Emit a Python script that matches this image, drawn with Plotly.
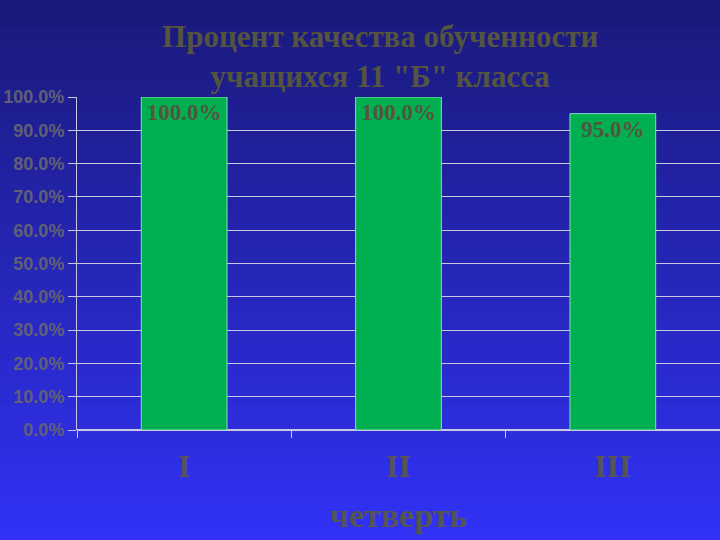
import plotly.graph_objects as go

# chart data
quarters = ["I", "II", "III"]
quality = [100.0, 100.0, 95.0]
y_ticks = [0, 10, 20, 30, 40, 50, 60, 70, 80, 90, 100]
y_labels = ["%.1f%%" % v for v in y_ticks]

title_text = "Процент качества обученности<br>учащихся 11 \"Б\" класса"
x_title = "четверть"

fig = go.Figure()
fig.add_trace(go.Bar(
    x=quarters,
    y=quality,
    width=0.4,
    marker=dict(color="#00b050", line=dict(color="#80e0c0", width=1)),
    text=["%.1f%%" % v for v in quality],
    textposition="inside",
    insidetextanchor="end",
    constraintext="none",
    textfont=dict(family="Liberation Serif", size=23, color="#55553f", weight="bold"),
))

# gradient background, dark navy at top -> bright blue at bottom
shapes = []
n = 60
top = (26, 26, 122)
bot = (50, 50, 246)
y_lo, y_hi = -110 / 333, (333 + 97) / 333
for i in range(n):
    f = i / (n - 1)
    c = tuple(int(top[k] + (bot[k] - top[k]) * f) for k in range(3))
    y1 = y_hi - (y_hi - y_lo) * i / n
    y0 = y_hi - (y_hi - y_lo) * (i + 1) / n
    shapes.append(dict(type="rect", xref="paper", yref="paper",
                       x0=-0.2, x1=1.2, y0=y0 - 0.002, y1=y1,
                       fillcolor="rgb(%d,%d,%d)" % c, line=dict(width=0),
                       layer="below"))

fig.update_layout(
    width=720, height=540,
    margin=dict(l=77, r=0, t=97, b=110),
    paper_bgcolor="#1a1a7a",
    plot_bgcolor="rgba(0,0,0,0)",
    shapes=shapes,
    showlegend=False,
    title=dict(text=title_text, x=0.528, xanchor="center", y=0.913, yanchor="middle",
               xref="container", yref="container",
               font=dict(family="Liberation Serif", size=31, color="#55553f", weight="bold")),
    xaxis=dict(
        tickfont=dict(family="Liberation Serif", size=32, color="#555555", weight="bold"),
        ticks="outside", tickson="boundaries", ticklen=7, tickcolor="#c8c8e0",
        ticklabelstandoff=14,
        showline=False, showgrid=False,
        title=dict(text=x_title, standoff=20,
                   font=dict(family="Liberation Serif", size=34, color="#555555", weight="bold")),
    ),
    yaxis=dict(
        range=[0, 100],
        tickvals=y_ticks, ticktext=y_labels,
        tickfont=dict(family="Liberation Sans", size=18, color="#606074", weight="bold"),
        ticks="outside", ticklen=8, tickcolor="#c8c8e0",
        showline=True, linecolor="#c8c8e0", linewidth=1,
        showgrid=True, gridcolor="#c8c8e0", gridwidth=1,
        zeroline=True, zerolinecolor="#c8c8e0",
    ),
)

fig.write_html("out.html", config={"displayModeBar": False},
               post_script="document.body.style.margin='0';")
